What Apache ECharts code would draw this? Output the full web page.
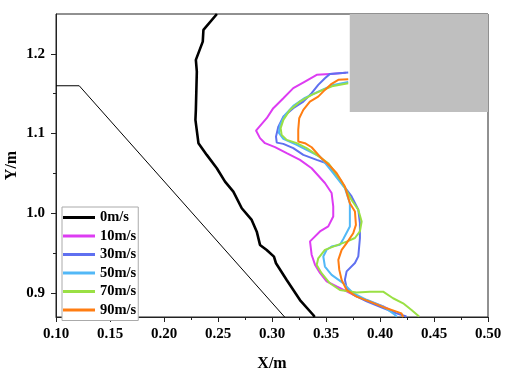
<!DOCTYPE html>
<html>
<head>
<meta charset="utf-8">
<script src="https://cdn.jsdelivr.net/npm/echarts@6/dist/echarts.min.js"></script>
<style>html,body{margin:0;padding:0;background:#fff}#c{width:511px;height:371px}</style>
</head>
<body>
<div id="c"></div>
<script>
var xMajor = [0.10, 0.15, 0.20, 0.25, 0.30, 0.35, 0.40, 0.45, 0.50];
var xMinor = [0.125, 0.175, 0.225, 0.275, 0.325, 0.375, 0.425, 0.475];
var yMajor = [0.9, 1.0, 1.1, 1.2];
var yMinor = [0.95, 1.05, 1.15];

var wallLine = [[0.10, 1.16], [0.1215, 1.16], [0.3117, 0.87]];
var obstacle = [[0.372, 1.25], [0.50, 1.127]];

var v0 = [[0.249,1.25],[0.2365,1.230],[0.2359,1.2154],[0.2295,1.1925],[0.2304,1.1778],[0.2295,1.1297],[0.2291,1.1172],[0.2319,1.088],[0.2396,1.0733],[0.2489,1.0566],[0.2565,1.0398],[0.2642,1.0272],[0.272,1.0064],[0.2812,0.9917],[0.2859,0.977],[0.2889,0.9604],[0.2951,0.9541],[0.3018,0.9457],[0.3037,0.9374],[0.3136,0.9164],[0.3259,0.8913],[0.3382,0.8725],[0.3395,0.87]];

var v10 = [[0.3684,1.1762],[0.3537,1.1749],[0.3414,1.1737],[0.3305,1.1653],[0.3197,1.157],[0.3105,1.1444],[0.3012,1.1319],[0.2951,1.1193],[0.2852,1.1038],[0.2889,1.0943],[0.2935,1.088],[0.3028,1.083],[0.3136,1.0754],[0.3259,1.067],[0.3367,1.0566],[0.3490,1.038],[0.3552,1.0255],[0.3567,1.0087],[0.3567,0.9961],[0.3521,0.9836],[0.3444,0.9773],[0.3352,0.9648],[0.3367,0.9481],[0.3398,0.9356],[0.3444,0.9252],[0.3506,0.9146],[0.3598,0.9083],[0.3691,0.9021],[0.3783,0.8958],[0.3906,0.8895],[0.4029,0.8833],[0.4091,0.8791]];

var v30 = [[0.3706,1.1765],[0.3537,1.1749],[0.3490,1.1695],[0.3428,1.1611],[0.3367,1.1507],[0.3290,1.1401],[0.3197,1.1319],[0.3105,1.1213],[0.3059,1.1088],[0.3037,1.0962],[0.3044,1.0887],[0.3105,1.0871],[0.3197,1.0817],[0.3290,1.0733],[0.3414,1.067],[0.3506,1.0629],[0.3537,1.0586],[0.3645,1.0378],[0.3737,1.0212],[0.3799,1.0045],[0.3814,0.9878],[0.3814,0.9690],[0.3799,0.9460],[0.3768,0.9377],[0.3691,0.9272],[0.3675,0.9168],[0.3691,0.9064],[0.3752,0.8980],[0.3876,0.8896],[0.4029,0.8813],[0.4153,0.8746],[0.4245,0.8706]];

var v50 = [[0.3706,1.1649],[0.3567,1.1611],[0.3428,1.1527],[0.3305,1.1448],[0.3197,1.1347],[0.3120,1.1234],[0.3074,1.1109],[0.3064,1.1009],[0.3105,1.0933],[0.3229,1.0858],[0.3320,1.0795],[0.3444,1.0711],[0.3567,1.0503],[0.3675,1.0315],[0.3721,1.0127],[0.3721,0.9834],[0.3659,0.9676],[0.3629,0.9605],[0.3552,0.9584],[0.3506,0.9543],[0.3475,0.9459],[0.3490,0.9333],[0.3552,0.9229],[0.3659,0.9125],[0.3752,0.8999],[0.3876,0.8916],[0.4029,0.8833],[0.4137,0.8729],[0.4156,0.8704]];

var v70 = [[0.3706,1.1632],[0.3567,1.1598],[0.3459,1.1540],[0.3367,1.1486],[0.3259,1.1401],[0.3166,1.1297],[0.3105,1.1172],[0.3080,1.1068],[0.3089,1.0984],[0.3136,1.0921],[0.3229,1.0880],[0.3320,1.0817],[0.3414,1.0733],[0.3521,1.0629],[0.3645,1.0398],[0.3737,1.0168],[0.3799,1.0045],[0.3830,0.9898],[0.3814,0.9773],[0.3768,0.9691],[0.3691,0.9645],[0.3567,0.9582],[0.3490,0.9541],[0.3428,0.9436],[0.3414,0.9352],[0.3459,0.9249],[0.3536,0.9123],[0.3629,0.9039],[0.3783,0.9008],[0.3906,0.9018],[0.4029,0.9018],[0.4121,0.8935],[0.4214,0.8872],[0.4292,0.8788],[0.4362,0.8706]];

var v90 = [[0.3706,1.1683],[0.3614,1.1674],[0.3552,1.1624],[0.3490,1.1548],[0.3428,1.1464],[0.3351,1.1401],[0.3290,1.1297],[0.3252,1.1193],[0.3243,1.1046],[0.3243,1.0900],[0.3305,1.0880],[0.3367,1.0829],[0.3444,1.0711],[0.3537,1.0595],[0.3599,1.0503],[0.3675,1.0336],[0.3721,1.0127],[0.3768,1.0023],[0.3777,0.9856],[0.3752,0.9751],[0.3691,0.9626],[0.3645,0.9541],[0.3614,0.9416],[0.3623,0.9291],[0.3645,0.9165],[0.3691,0.9039],[0.3783,0.8955],[0.3906,0.8893],[0.4060,0.8809],[0.4153,0.8767],[0.4199,0.8746],[0.4215,0.8700]];

var names = ['0m/s', '10m/s', '30m/s', '50m/s', '70m/s', '90m/s'];
var colors = ['#000000', '#dd3cf2', '#5f70f0', '#52b8f7', '#9ae044', '#ff7d12'];
var datasets = [v0, v10, v30, v50, v70, v90];

var FONT = 'Liberation Serif';
var chart = echarts.init(document.getElementById('c'), null, {renderer: 'canvas'});

var series = [{
  type: 'line',
  data: wallLine,
  showSymbol: false,
  silent: true,
  lineStyle: {color: '#000', width: 1},
  markArea: {
    silent: true,
    itemStyle: {color: '#bfbfbf', opacity: 1},
    data: [[{coord: obstacle[0]}, {coord: obstacle[1]}]]
  },
  z: 1
}];
datasets.forEach(function (d, i) {
  series.push({
    name: names[i],
    type: 'line',
    data: d,
    showSymbol: false,
    symbol: 'none',
    lineStyle: {color: colors[i], width: i === 0 ? 2.6 : 2},
    itemStyle: {color: colors[i]},
    z: 2 + i
  });
});

chart.setOption({
  animation: false,
  grid: {left: 56, right: 23, top: 14, bottom: 54, outerBoundsMode: 'none', containLabel: false, show: true, borderColor: '#222', borderWidth: 1, backgroundColor: 'transparent'},
  legend: {
    data: names,
    orient: 'vertical',
    left: 62, top: 207,
    icon: 'rect',
    itemWidth: 32, itemHeight: 3,
    itemGap: 3.5,
    padding: [3, 2, 3, 1],
    borderColor: '#aaaaaa', borderWidth: 1,
    backgroundColor: '#fff',
    textStyle: {fontFamily: FONT, fontWeight: 'bold', fontSize: 14.5, color: '#000', lineHeight: 14}
  },
  xAxis: [{
    type: 'value', min: 0.1, max: 0.5,
    name: 'X/m', nameLocation: 'middle', nameGap: 39,
    nameTextStyle: {fontFamily: FONT, fontWeight: 'bold', fontSize: 16, color: '#000'},
    axisLine: {show: true, lineStyle: {color: '#222', width: 1}},
    axisTick: {show: true, length: 5, customValues: xMajor, lineStyle: {color: '#222'}},
    axisLabel: {customValues: xMajor, margin: 10, fontFamily: FONT, fontWeight: 'bold', fontSize: 15, color: '#000', formatter: function (v) { return v.toFixed(2); }},
    splitLine: {show: false}
  }, {
    type: 'value', min: 0.1, max: 0.5, position: 'bottom',
    axisLine: {show: false},
    axisTick: {show: true, length: 3, customValues: xMinor, lineStyle: {color: '#222'}},
    axisLabel: {show: false},
    splitLine: {show: false}
  }],
  yAxis: [{
    type: 'value', min: 0.87, max: 1.25,
    name: 'Y/m', nameLocation: 'middle', nameGap: 36, nameMoveOverlap: false,
    nameTextStyle: {fontFamily: FONT, fontWeight: 'bold', fontSize: 16, color: '#000'},
    axisLine: {show: true, lineStyle: {color: '#222', width: 1}},
    axisTick: {show: true, length: 5, customValues: yMajor, lineStyle: {color: '#222'}},
    axisLabel: {customValues: yMajor, margin: 11, fontFamily: FONT, fontWeight: 'bold', fontSize: 15, color: '#000', formatter: function (v) { return v.toFixed(1); }},
    splitLine: {show: false}
  }, {
    type: 'value', min: 0.87, max: 1.25, position: 'left',
    axisLine: {show: false},
    axisTick: {show: true, length: 3, customValues: yMinor, lineStyle: {color: '#222'}},
    axisLabel: {show: false},
    splitLine: {show: false}
  }],
  series: series
});
</script>
</body>
</html>
